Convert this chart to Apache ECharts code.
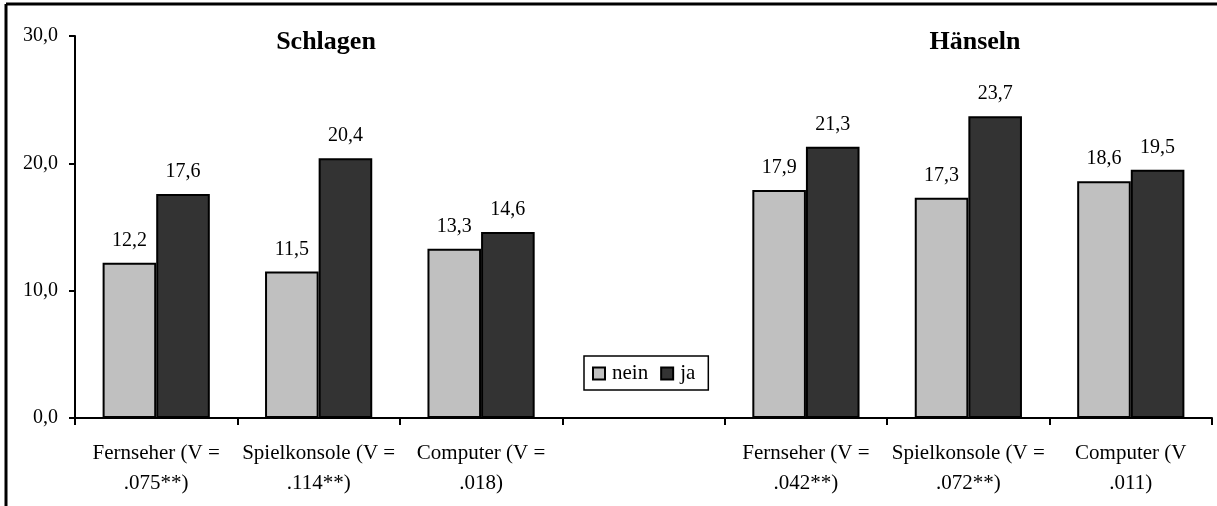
<!DOCTYPE html>
<html>
<head>
<meta charset="utf-8">
<script src="https://cdn.jsdelivr.net/npm/echarts@6/dist/echarts.min.js"></script>
<style>
html,body{margin:0;padding:0;background:#fff;}
#c{width:1217px;height:506px;}
</style>
</head>
<body>
<div id="c"></div>
<script>
const categories = [
  'Fernseher (V =\n.075**)',
  'Spielkonsole (V =\n.114**)',
  'Computer (V =\n.018)',
  '',
  'Fernseher (V =\n.042**)',
  'Spielkonsole (V =\n.072**)',
  'Computer (V\n.011)'
];
const neinValues = [12.2, 11.5, 13.3, null, 17.9, 17.3, 18.6];
const jaValues = [17.6, 20.4, 14.6, null, 21.3, 23.7, 19.5];
const yTicks = [0, 10, 20, 30];
const groupTitles = ['Schlagen', 'Hänseln'];

const FONT = '"Liberation Serif", "Times New Roman", serif';
const fmt = v => Number(v).toFixed(1).replace('.', ',');

const chart = echarts.init(document.getElementById('c'), null, {renderer: 'canvas'});
chart.setOption({
  animation: false,
  backgroundColor: '#fff',
  textStyle: {fontFamily: FONT, color: '#000'},
  title: [
    {text: groupTitles[0], left: 321, top: 24, textAlign: 'center',
     textStyle: {fontFamily: FONT, fontWeight: 'bold', fontSize: 26, color: '#000'}},
    {text: groupTitles[1], left: 970, top: 24, textAlign: 'center',
     textStyle: {fontFamily: FONT, fontWeight: 'bold', fontSize: 26, color: '#000'}}
  ],
  legend: {
    data: ['nein', 'ja'],
    left: 584, top: 356,
    orient: 'horizontal',
    borderColor: '#000', borderWidth: 1.5,
    padding: [7, 13, 6, 8],
    itemGap: 12,
    itemWidth: 12, itemHeight: 12,
    icon: 'rect',
    textStyle: {fontFamily: FONT, fontSize: 21, color: '#000', padding: [0, 0, 0, 2]}
  },
  grid: {left: 75, right: 5, top: 36, bottom: 88, containLabel: false},
  xAxis: {
    type: 'category',
    data: categories,
    axisLine: {lineStyle: {color: '#000', width: 2}},
    axisTick: {show: true, alignWithLabel: false, length: 7, lineStyle: {color: '#000', width: 2}},
    axisLabel: {interval: 0, fontFamily: FONT, fontSize: 21, color: '#000', lineHeight: 30, margin: 20, align: 'center'}
  },
  yAxis: {
    type: 'value',
    min: 0, max: 30, interval: 10,
    splitLine: {show: false},
    axisLine: {show: true, lineStyle: {color: '#000', width: 2}},
    axisTick: {show: true, length: 6, lineStyle: {color: '#000', width: 2}},
    axisLabel: {fontFamily: FONT, fontSize: 20, color: '#000', margin: 17, formatter: v => yTicks.includes(v) ? fmt(v) : ''}
  },
  series: [
    {
      name: 'nein', type: 'bar', data: neinValues,
      barGap: '0%', barCategoryGap: '34%',
      itemStyle: {color: '#c0c0c0', borderColor: '#000', borderWidth: 2},
      label: {show: true, position: 'top', distance: 12, fontFamily: FONT, fontSize: 20, color: '#000', formatter: p => fmt(p.value)}
    },
    {
      name: 'ja', type: 'bar', data: jaValues,
      barGap: '0%', barCategoryGap: '34%',
      itemStyle: {color: '#333333', borderColor: '#000', borderWidth: 2},
      label: {show: true, position: 'top', distance: 12, fontFamily: FONT, fontSize: 20, color: '#000', formatter: p => fmt(p.value)}
    }
  ],
  graphic: [
    {type: 'line', shape: {x1: 6, y1: 4, x2: 1217, y2: 4}, style: {stroke: '#000', lineWidth: 3}},
    {type: 'line', shape: {x1: 6, y1: 4, x2: 6, y2: 506}, style: {stroke: '#000', lineWidth: 3}}
  ]
});
</script>
</body>
</html>
